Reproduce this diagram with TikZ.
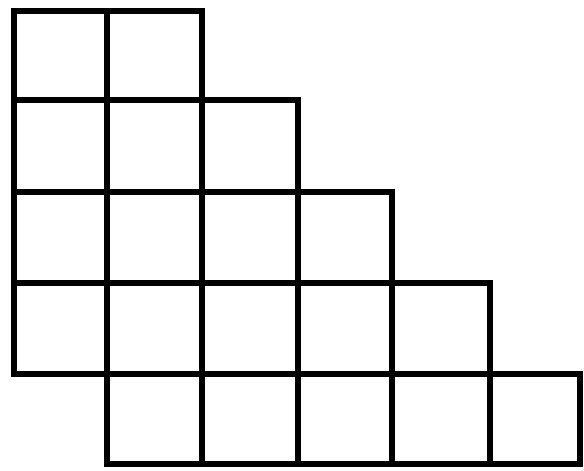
\documentclass[tikz,border=0pt]{standalone}
\usepackage{tikz}

\begin{document}
\begin{tikzpicture}[
  x=1pt, y=-1pt,
  cell/.style={draw=black, line width=6pt, line join=miter},
]
  \useasboundingbox (0,0) rectangle (584,471);

  % Column and row edges
  \def\colx{{14,107,202,298,392,490,580}}
  \def\rowy{{11,100,192,283,374,464}}

  % Staircase of squares: row / first column / last column
  \foreach \r/\a/\b in {0/0/1, 1/0/2, 2/0/3, 3/0/4, 4/1/5}
    \foreach \c in {\a,...,\b}
      \draw[cell] ({\colx[\c]},{\rowy[\r]}) rectangle
                  ({\colx[\c+1]},{\rowy[\r+1]});
\end{tikzpicture}
\end{document}
